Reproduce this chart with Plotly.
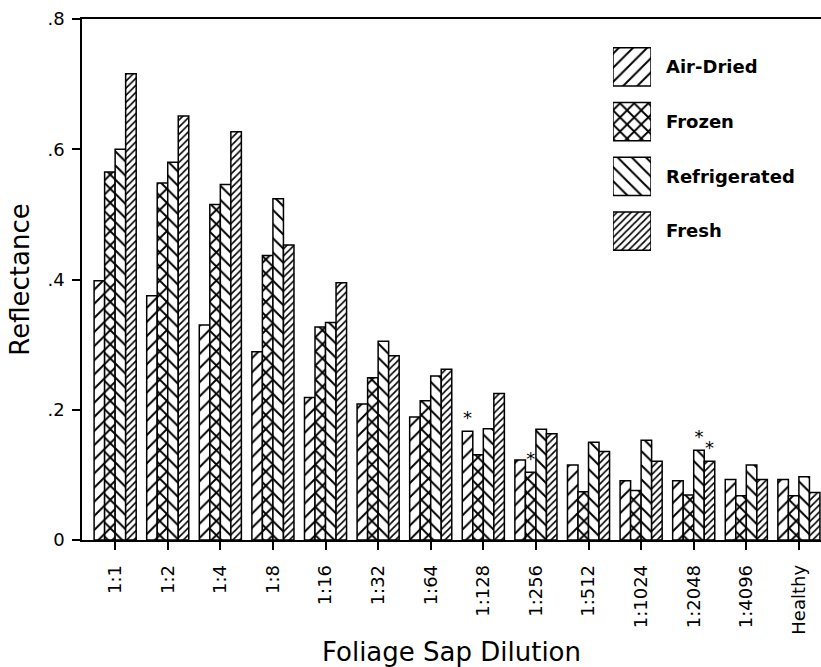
import plotly.graph_objects as go

# ---------------- data ----------------
categories = ["1:1", "1:2", "1:4", "1:8", "1:16", "1:32", "1:64", "1:128",
              "1:256", "1:512", "1:1024", "1:2048", "1:4096", "Healthy"]
air_dried = [0.398, 0.375, 0.330, 0.289, 0.219, 0.209, 0.189, 0.167,
             0.123, 0.115, 0.091, 0.091, 0.093, 0.093]
frozen = [0.565, 0.548, 0.515, 0.437, 0.327, 0.249, 0.214, 0.131,
          0.104, 0.074, 0.076, 0.069, 0.068, 0.068]
refrigerated = [0.600, 0.580, 0.546, 0.524, 0.334, 0.305, 0.252, 0.171,
                0.170, 0.150, 0.153, 0.138, 0.115, 0.097]
fresh = [0.716, 0.651, 0.627, 0.453, 0.395, 0.283, 0.262, 0.225,
         0.163, 0.136, 0.121, 0.121, 0.093, 0.073]
# significance markers
air_dried_marks = ["", "", "", "", "", "", "", "*", "", "", "", "", "", ""]
frozen_marks = ["", "", "", "", "", "", "", "", "*", "", "", "", "", ""]
refrigerated_marks = ["", "", "", "", "", "", "", "", "", "", "", "*", "", ""]
fresh_marks = ["", "", "", "", "", "", "", "", "", "", "", "*", "", ""]

series_names = ["Air-Dried", "Frozen", "Refrigerated", "Fresh"]
y_tick_vals = [0, 0.2, 0.4, 0.6, 0.8]
y_tick_text = ["0", ".2", ".4", ".6", ".8"]
legend_swatch = [1, 1, 1, 1]

# ---------------- styles ----------------
FONT = "DejaVu Sans"
pattern_shapes = ["/", "x", "\\", "/"]
pattern_sizes = [10, 10, 10, 5]
pattern_solidity = [0.2, 0.34, 0.2, 0.32]

series_values = [air_dried, frozen, refrigerated, fresh]
series_marks = [air_dried_marks, frozen_marks, refrigerated_marks, fresh_marks]

fig = go.Figure()
for i, name in enumerate(series_names):
    fig.add_trace(go.Bar(
        x=categories, y=series_values[i], name=name,
        text=series_marks[i], textposition="outside",
        textfont=dict(family=FONT, size=18, color="black"),
        constraintext="none", cliponaxis=False,
        marker=dict(color="white",
                    line=dict(color="black", width=1.5),
                    pattern=dict(shape=pattern_shapes[i], size=pattern_sizes[i],
                                 solidity=pattern_solidity[i], fgcolor="black",
                                 fgopacity=1, bgcolor="white",
                                 fillmode="overlay")),
        showlegend=False, hoverinfo="x+y+name",
    ))

# custom legend as an inset of horizontal bars
fig.add_trace(go.Bar(
    x=legend_swatch, y=series_names, orientation="h",
    xaxis="x2", yaxis="y2", width=0.7, showlegend=False, hoverinfo="skip",
    marker=dict(color="white", line=dict(color="black", width=1.5),
                pattern=dict(shape=pattern_shapes, size=pattern_sizes,
                             solidity=pattern_solidity, fgcolor="black",
                             fgopacity=1, bgcolor="white", fillmode="overlay")),
))

fig.update_layout(
    width=821, height=667,
    margin=dict(l=82, r=0, t=19, b=127),
    paper_bgcolor="white", plot_bgcolor="white",
    barmode="group", bargap=0.2, bargroupgap=0,
    font=dict(family=FONT, color="black"),
    xaxis=dict(
        type="category", range=[-0.63, 13.42],
        showline=True, linecolor="black", linewidth=1.5, mirror=True,
        ticks="outside", ticklen=8, tickwidth=1.5, tickcolor="black",
        tickangle=-90, tickfont=dict(family=FONT, size=18),
        ticklabelstandoff=8,
        showgrid=False, zeroline=False,
        title=dict(text="Foliage Sap Dilution", font=dict(family=FONT, size=26),
                   standoff=10),
    ),
    yaxis=dict(
        range=[0, 0.8], tickvals=y_tick_vals, ticktext=y_tick_text,
        showline=True, linecolor="black", linewidth=1.5,
        ticks="outside", ticklen=8, tickwidth=1.5, tickcolor="black",
        tickfont=dict(family=FONT, size=18), ticklabelstandoff=4,
        showgrid=False, zeroline=False,
        title=dict(text="Reflectance", font=dict(family=FONT, size=26),
                   standoff=10),
    ),
    xaxis2=dict(domain=[0.7185, 0.770], range=[0, 1], anchor="y2",
                visible=False, fixedrange=True),
    yaxis2=dict(domain=[0.5405, 0.9605], anchor="x2", side="right",
                type="category", categoryorder="array",
                categoryarray=series_names, autorange="reversed",
                showline=False, showgrid=False, zeroline=False, ticks="",
                ticklabelstandoff=14,
                tickfont=dict(family=FONT, size=18, weight="bold"),
                fixedrange=True),
)

fig.write_html("out.html", post_script="document.body.style.margin='0';",
               config={"displayModeBar": False})
